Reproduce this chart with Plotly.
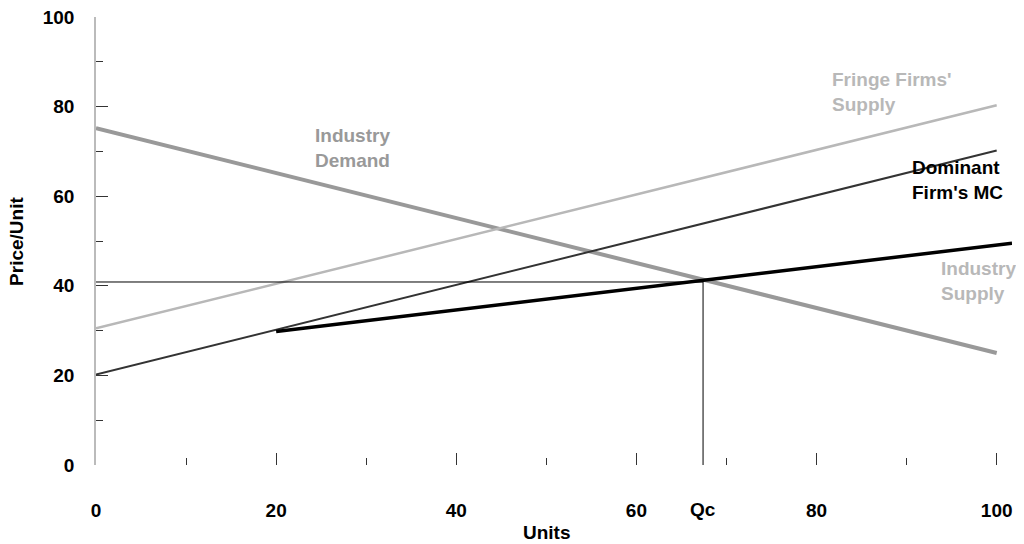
import plotly.graph_objects as go

# Data
demand_x = [0, 100]
demand_y = [75.2, 25.0]
fringe_x = [0, 100]
fringe_y = [30.5, 80.3]
dominant_x = [0, 100]
dominant_y = [20.2, 70.2]
industry_x = [20, 101.7]
industry_y = [29.8, 49.5]
qc_value = 67.4
pc_value = 40.85
x_ticks = [0, 20, 40, 60, 80, 100]
y_ticks = [0, 20, 40, 60, 80, 100]

FONT = "Liberation Sans, Arial, sans-serif"
FS = 19

fig = go.Figure()
fig.add_trace(go.Scatter(x=demand_x, y=demand_y, mode="lines",
                         line=dict(color="#999999", width=4), hoverinfo="skip"))
fig.add_trace(go.Scatter(x=fringe_x, y=fringe_y, mode="lines",
                         line=dict(color="#b8b8b8", width=2.5), hoverinfo="skip"))
fig.add_trace(go.Scatter(x=dominant_x, y=dominant_y, mode="lines",
                         line=dict(color="#333333", width=2), hoverinfo="skip"))
fig.add_trace(go.Scatter(x=industry_x, y=industry_y, mode="lines",
                         line=dict(color="#000000", width=3.5), hoverinfo="skip"))
# Qc guide lines
fig.add_trace(go.Scatter(x=[0, qc_value, qc_value], y=[pc_value, pc_value, 0], mode="lines",
                         line=dict(color="#000000", width=1), hoverinfo="skip"))

lbl = dict(size=FS, family=FONT)
fig.add_annotation(x=28.5, y=70.8, text="<b>Industry<br>Demand</b>", showarrow=False,
                   xanchor="center", yanchor="middle", align="center",
                   font=dict(color="#999999", **lbl))
fig.add_annotation(x=81.5, y=83.3, text="<b>Fringe Firms'<br>Supply</b>", showarrow=False,
                   xanchor="left", yanchor="middle", align="left",
                   font=dict(color="#b8b8b8", **lbl))
fig.add_annotation(x=90.4, y=63.6, text="<b>Dominant<br>Firm's MC</b>", showarrow=False,
                   xanchor="left", yanchor="middle", align="left",
                   font=dict(color="#000000", **lbl))
fig.add_annotation(x=93.6, y=41.1, text="<b>Industry<br>Supply</b>", showarrow=False,
                   xanchor="left", yanchor="middle", align="left",
                   font=dict(color="#b8b8b8", **lbl))
fig.add_annotation(x=qc_value, yref="paper", y=-0.1004, text="<b>Qc</b>", showarrow=False,
                   xanchor="center", yanchor="middle",
                   font=dict(color="#000000", **lbl))
# axis titles
fig.add_annotation(xref="paper", yref="paper", x=0.492, y=-0.1496, text="<b>Units</b>",
                   showarrow=False, xanchor="center", yanchor="middle",
                   font=dict(color="#000000", **lbl))
fig.add_annotation(xref="paper", yref="paper", x=-0.0862, y=0.498, text="<b>Price/Unit</b>",
                   showarrow=False, xanchor="center", yanchor="middle", textangle=-90,
                   font=dict(color="#000000", **lbl))

fig.update_layout(
    width=1016, height=544,
    margin=dict(l=88, r=12, t=9, b=87),
    plot_bgcolor="white", paper_bgcolor="white",
    showlegend=False,
    font=dict(family=FONT, size=FS, color="#000000"),
    xaxis=dict(range=[0, 101.7], tickvals=x_ticks, ticktext=[f"<b>{v}</b>" for v in x_ticks],
               showgrid=False, zeroline=False, showline=False, automargin=False,
               ticks="inside", ticklen=12, tickcolor="#333333", tickwidth=1,
               minor=dict(dtick=10, tick0=0, ticks="inside", ticklen=7, tickcolor="#333333"),
               ticklabelstandoff=32, ticklabeloverflow="allow"),
    yaxis=dict(range=[0, 100], tickvals=y_ticks, ticktext=[f"<b>{v}</b>" for v in y_ticks],
               showgrid=False, zeroline=False, showline=True, linecolor="#bbbbbb", linewidth=1.5,
               automargin=False,
               ticks="inside", ticklen=12, tickcolor="#333333", tickwidth=1,
               minor=dict(dtick=10, tick0=0, ticks="inside", ticklen=7, tickcolor="#333333"),
               ticklabelstandoff=16, ticklabeloverflow="allow"),
)

fig.write_html("out.html")
